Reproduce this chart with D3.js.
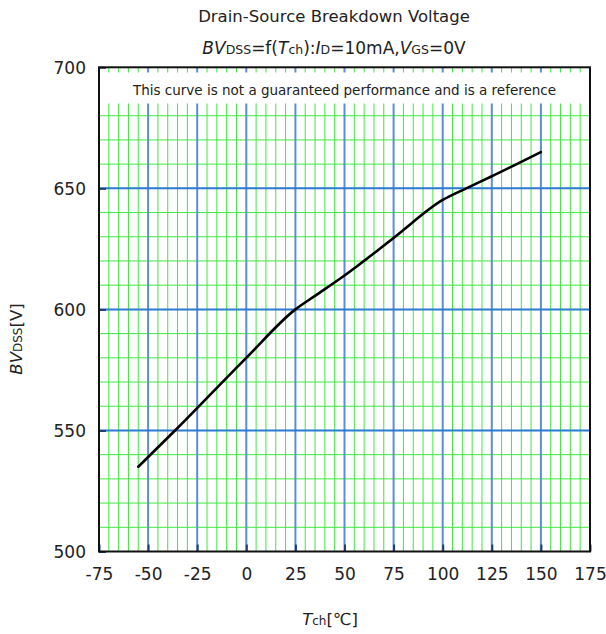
<!DOCTYPE html>
<html><head><meta charset="utf-8">
<script src="https://cdn.jsdelivr.net/npm/d3@7"></script>
<style>body{margin:0;background:#fff}svg{display:block}text{font-family:"DejaVu Sans",Verdana,sans-serif;fill:#222}</style>
</head><body>
<svg id="c" width="606" height="634"></svg>
<script>
const tempC = [-55, -35, 0, 25, 35, 50, 75, 100, 112, 125, 150];
const bvdss = [535, 551, 580, 600, 605.6, 614, 629.5, 645.2, 650, 655, 665];
const xTicks = [-75, -50, -25, 0, 25, 50, 75, 100, 125, 150, 175];
const yTicks = [500, 550, 600, 650, 700];
const noteText = "This curve is not a guaranteed performance and is a reference";

const svg = d3.select("#c");
const L = 99, R = 590, T = 67.3, B = 551.5;
const x = d3.scaleLinear().domain([-75, 175]).range([L, R]);
const y = d3.scaleLinear().domain([500, 700]).range([B, T]);

const g = svg.append("g");
// minor grid
g.selectAll(".vmin").data(d3.range(-70, 175, 5).filter(v => v % 25 !== 0)).join("line")
  .attr("x1", d => x(d)).attr("x2", d => x(d)).attr("y1", T).attr("y2", B)
  .attr("stroke", "#3ee83e").attr("stroke-width", 1);
g.selectAll(".hmin").data(d3.range(510, 700, 10).filter(v => v % 50 !== 0)).join("line")
  .attr("x1", L).attr("x2", R).attr("y1", d => y(d)).attr("y2", d => y(d))
  .attr("stroke", "#3ee83e").attr("stroke-width", 1);
// major grid
g.selectAll(".vmaj").data(xTicks.slice(1, -1)).join("line")
  .attr("x1", d => x(d)).attr("x2", d => x(d)).attr("y1", T).attr("y2", B)
  .attr("stroke", "#5b8fd4").attr("stroke-width", 2);
g.selectAll(".hmaj").data(yTicks.slice(1, -1)).join("line")
  .attr("x1", L).attr("x2", R).attr("y1", d => y(d)).attr("y2", d => y(d))
  .attr("stroke", "#2a7ad2").attr("stroke-width", 2);

// note box
svg.append("rect").attr("x", L + 1).attr("y", 72.5).attr("width", R - L - 2).attr("height", 31)
  .attr("fill", "#fff");
svg.append("text").attr("x", (L + R) / 2).attr("y", 95).attr("text-anchor", "middle")
  .style("font-size", "13.5px").text(noteText);

// axes
const fmt = d => String(d);
const xa = svg.append("g").attr("transform", `translate(0,${B})`)
  .call(d3.axisBottom(x).tickValues(xTicks).tickSize(-7).tickPadding(16).tickFormat(fmt));
const ya = svg.append("g").attr("transform", `translate(${L},0)`)
  .call(d3.axisLeft(y).tickValues(yTicks).tickSize(-7).tickPadding(13).tickFormat(fmt));
[xa, ya].forEach(a => {
  a.select(".domain").remove();
  a.selectAll(".tick line").attr("stroke", "#1d3f70").attr("stroke-width", 2);
  a.selectAll("text").attr("font-family", null).style("font-size", "17px").attr("fill", "#222");
});
ya.selectAll("text").attr("dy", "0.35em");
xa.selectAll("text").attr("dy", "0.71em");

// curve
const line = d3.line().x((d, i) => x(tempC[i])).y(d => y(d)).curve(d3.curveMonotoneX);
svg.append("path").attr("d", line(bvdss)).attr("fill", "none").attr("stroke", "#000")
  .attr("stroke-width", 2.6).attr("stroke-linecap", "round");

// frame
svg.append("rect").attr("x", L).attr("y", T).attr("width", R - L).attr("height", B - T)
  .attr("fill", "none").attr("stroke", "#111").attr("stroke-width", 2);

// titles
svg.append("text").attr("x", 334).attr("y", 22).attr("text-anchor", "middle")
  .style("font-size", "16.5px").text("Drain-Source Breakdown Voltage");
const st = svg.append("text").attr("x", 334).attr("y", 54).attr("text-anchor", "middle").style("font-size", "17px");
[["BV", "i"], ["DSS", "s"], ["=f(", ""], ["T", "i"], ["ch", "s"], ["):", ""], ["I", "i"], ["D", "s"], ["=10mA,", ""], ["V", "i"], ["GS", "s"], ["=0V", ""]]
  .forEach(([t, k]) => {
    const s = st.append("tspan").text(t);
    if (k === "i") s.style("font-style", "italic");
    if (k === "s") s.style("font-size", "12.5px");
  });
const yl = svg.append("text").attr("transform", "translate(22,339) rotate(-90)").attr("text-anchor", "middle").style("font-size", "16.5px");
[["BV", "i"], ["DSS", "s"], ["[V]", ""]].forEach(([t, k]) => {
  const s = yl.append("tspan").text(t);
  if (k === "i") s.style("font-style", "italic");
  if (k === "s") s.style("font-size", "12px");
});
const xl = svg.append("text").attr("x", 330).attr("y", 625).attr("text-anchor", "middle").style("font-size", "16.5px");
[["T", "i"], ["ch", "s"], ["[℃]", ""]].forEach(([t, k]) => {
  const s = xl.append("tspan").text(t);
  if (k === "i") s.style("font-style", "italic");
  if (k === "s") s.style("font-size", "12px");
});
</script>
</body></html>
